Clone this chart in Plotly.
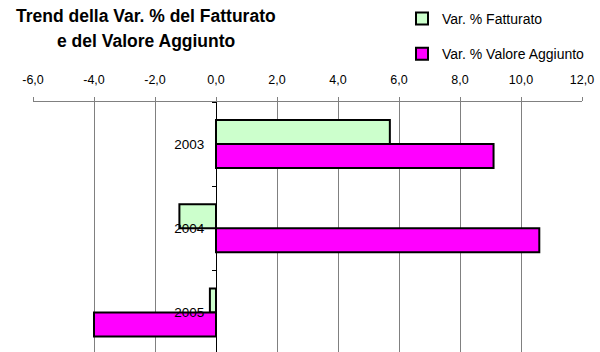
import plotly.graph_objects as go

# data
anni = ["2003", "2004", "2005"]
var_fatturato = [5.7, -1.2, -0.2]
var_valore_aggiunto = [9.1, 10.6, -4.0]
x_ticks = [-6, -4, -2, 0, 2, 4, 6, 8, 10, 12]
x_tick_labels = ["-6,0", "-4,0", "-2,0", "0,0", "2,0", "4,0", "6,0", "8,0", "10,0", "12,0"]

fig = go.Figure()
fig.add_trace(go.Bar(y=anni, x=var_fatturato, orientation="h", yaxis="y2",
                     name="Var. % Fatturato", legendgroup="a",
                     marker=dict(color="#CCFFCC", line=dict(color="black", width=2))))
fig.add_trace(go.Bar(y=anni, x=var_valore_aggiunto, orientation="h", yaxis="y2",
                     name="Var. % Valore Aggiunto", legendgroup="b",
                     marker=dict(color="#FF00FF", line=dict(color="black", width=2))))

yrange = [2.47, -0.5]

fig.update_layout(
    width=600, height=352,
    margin=dict(l=33, r=18, t=102, b=0, autoexpand=False),
    paper_bgcolor="white", plot_bgcolor="white",
    font=dict(family="Liberation Sans, Arial", size=12.5, color="black"),
    barmode="group", bargap=0.43, bargroupgap=0,
    showlegend=True,
    legend=dict(x=(402 - 33) / 549, y=1 + 99 / 250,
                xanchor="left", yanchor="top",
                font=dict(size=14), tracegroupgap=14,
                itemwidth=30, bgcolor="rgba(0,0,0,0)"),
    xaxis=dict(side="top", range=[-6, 12], tickvals=x_ticks, ticktext=x_tick_labels,
               showgrid=True, gridcolor="#808080", gridwidth=1,
               zeroline=False,
               showline=True, linecolor="#808080",
               ticks="outside", ticklen=4, tickcolor="#808080",
               ticklabelstandoff=8, ticklabeloverflow="allow"),
    yaxis=dict(type="category", categoryarray=anni, range=yrange,
               showgrid=False, showticklabels=False, ticks="", showline=False,
               zeroline=False),
    yaxis2=dict(type="category", categoryarray=anni, range=yrange,
                overlaying="y", anchor="free", position=1/3, side="left",
                showgrid=False, showline=True, linecolor="black", linewidth=1,
                ticks="outside", tickson="boundaries", ticklen=4, tickcolor="black",
                ticklabelstandoff=9, zeroline=False, tickfont=dict(size=13.5)),
)

fig.add_annotation(text="<b>Trend della Var. % del Fatturato</b>", xref="paper", yref="paper",
                   x=(146 - 33) / 549, y=1 + (102 - 16) / 250, xanchor="center", yanchor="middle",
                   showarrow=False, font=dict(size=17.5))
fig.add_annotation(text="<b>e del Valore Aggiunto</b>", xref="paper", yref="paper",
                   x=(146 - 33) / 549, y=1 + (102 - 41) / 250, xanchor="center", yanchor="middle",
                   showarrow=False, font=dict(size=17.5))

# page has a default body margin; drop it so the chart sits at the window origin
fig.write_html("out.html", config={"displayModeBar": False},
               post_script="document.body.style.margin='0';")
